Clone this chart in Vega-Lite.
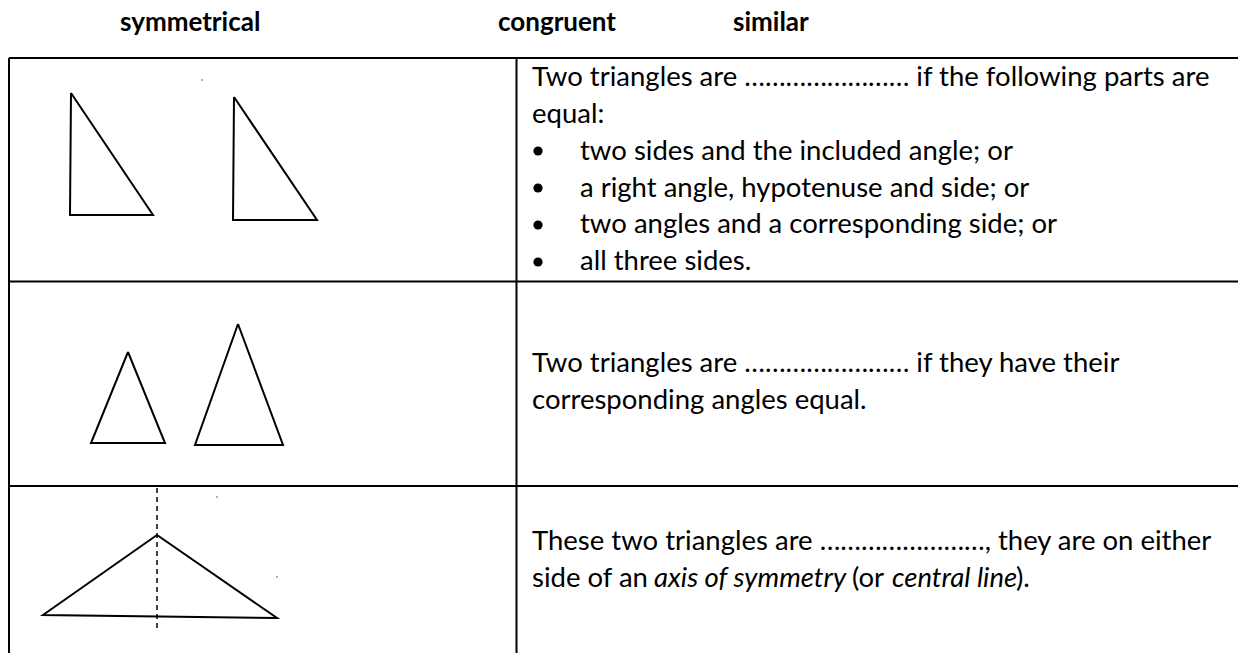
{
  "$schema": "https://vega.github.io/schema/vega-lite/v6.json",
  "width": 1238,
  "height": 653,
  "padding": 0,
  "autosize": {"type": "none"},
  "background": "white",
  "config": {"view": {"stroke": null}},
  "layer": [
    {
      "data": {"values": [
        {"part": "top border", "x": 9, "x2": 1238, "y": 58, "y2": 58},
        {"part": "left border", "x": 9, "x2": 9, "y": 58, "y2": 653},
        {"part": "column divider", "x": 516.5, "x2": 516.5, "y": 58, "y2": 653},
        {"part": "row line 1", "x": 9, "x2": 1238, "y": 281.5, "y2": 281.5},
        {"part": "row line 2", "x": 9, "x2": 1238, "y": 486, "y2": 486}
      ]},
      "mark": {"type": "rule", "color": "black", "strokeWidth": 2},
      "encoding": {
        "x": {"field": "x", "type": "quantitative", "scale": {"domain": [0, 1238], "nice": false, "zero": false}, "axis": null},
        "x2": {"field": "x2"},
        "y": {"field": "y", "type": "quantitative", "scale": {"domain": [0, 653], "nice": false, "zero": false, "reverse": true}, "axis": null},
        "y2": {"field": "y2"}
      }
    },
    {
      "data": {"values": [
        {"shape": "r1a", "i": 0, "x": 71, "y": 93},
        {"shape": "r1a", "i": 1, "x": 153, "y": 215},
        {"shape": "r1a", "i": 2, "x": 70, "y": 215},
        {"shape": "r1a", "i": 3, "x": 71, "y": 93},
        {"shape": "r1b", "i": 0, "x": 234, "y": 97},
        {"shape": "r1b", "i": 1, "x": 317, "y": 220},
        {"shape": "r1b", "i": 2, "x": 233, "y": 220},
        {"shape": "r1b", "i": 3, "x": 234, "y": 97},
        {"shape": "r2a", "i": 0, "x": 128, "y": 352},
        {"shape": "r2a", "i": 1, "x": 165, "y": 443},
        {"shape": "r2a", "i": 2, "x": 91, "y": 443},
        {"shape": "r2a", "i": 3, "x": 128, "y": 352},
        {"shape": "r2b", "i": 0, "x": 238, "y": 324},
        {"shape": "r2b", "i": 1, "x": 283, "y": 445},
        {"shape": "r2b", "i": 2, "x": 195, "y": 445},
        {"shape": "r2b", "i": 3, "x": 238, "y": 324},
        {"shape": "r3", "i": 0, "x": 157, "y": 535},
        {"shape": "r3", "i": 1, "x": 277, "y": 618},
        {"shape": "r3", "i": 2, "x": 43, "y": 615},
        {"shape": "r3", "i": 3, "x": 157, "y": 535}
      ]},
      "mark": {"type": "line", "color": "black", "strokeWidth": 2, "strokeJoin": "miter"},
      "encoding": {
        "x": {"field": "x", "type": "quantitative"},
        "y": {"field": "y", "type": "quantitative"},
        "detail": {"field": "shape"},
        "order": {"field": "i", "type": "quantitative"}
      }
    },
    {
      "data": {"values": [{"x": 157, "y": 488, "y2": 630}]},
      "mark": {"type": "rule", "color": "black", "strokeWidth": 1.5, "strokeDash": [5, 4]},
      "encoding": {
        "x": {"field": "x", "type": "quantitative"},
        "y": {"field": "y", "type": "quantitative"},
        "y2": {"field": "y2"}
      }
    },
    {
      "data": {"values": [
        {"x": 202, "y": 80}, {"x": 217, "y": 497}, {"x": 277, "y": 577}
      ]},
      "mark": {"type": "square", "color": "#555", "size": 3, "filled": true},
      "encoding": {
        "x": {"field": "x", "type": "quantitative"},
        "y": {"field": "y", "type": "quantitative"}
      }
    },
    {
      "data": {"values": [
        {"x": 538, "y": 151},
        {"x": 538, "y": 188},
        {"x": 538, "y": 225},
        {"x": 538, "y": 262}
      ]},
      "mark": {"type": "circle", "color": "black", "size": 85, "opacity": 1},
      "encoding": {
        "x": {"field": "x", "type": "quantitative"},
        "y": {"field": "y", "type": "quantitative"}
      }
    },
    {
      "data": {"values": [
        {"x": 120, "y": 31, "text": "symmetrical"},
        {"x": 498, "y": 31, "text": "congruent"},
        {"x": 733, "y": 31, "text": "similar"}
      ]},
      "mark": {"type": "text", "font": "Lato", "fontWeight": "bold", "fontSize": 26, "align": "left", "baseline": "alphabetic", "color": "black"},
      "encoding": {
        "x": {"field": "x", "type": "quantitative"},
        "y": {"field": "y", "type": "quantitative"},
        "text": {"field": "text"}
      }
    },
    {
      "data": {"values": [
        {"x": 532, "y": 86, "text": "Two triangles are …………………… if the following parts are"},
        {"x": 532, "y": 123, "text": "equal:"},
        {"x": 580, "y": 160, "text": "two sides and the included angle; or"},
        {"x": 580, "y": 197, "text": "a right angle, hypotenuse and side; or"},
        {"x": 580, "y": 233, "text": "two angles and a corresponding side; or"},
        {"x": 580, "y": 270, "text": "all three sides."},
        {"x": 532, "y": 372, "text": "Two triangles are …………………… if they have their"},
        {"x": 532, "y": 409, "text": "corresponding angles equal."},
        {"x": 532, "y": 550, "text": "These two triangles are ……………………, they are on either"},
        {"x": 532, "y": 587, "text": "side of an"},
        {"x": 852, "y": 587, "text": "(or"},
        {"x": 1016, "y": 587, "text": ")."}
      ]},
      "mark": {"type": "text", "font": "Lato", "fontSize": 27.5, "align": "left", "baseline": "alphabetic", "color": "black"},
      "encoding": {
        "x": {"field": "x", "type": "quantitative"},
        "y": {"field": "y", "type": "quantitative"},
        "text": {"field": "text"}
      }
    },
    {
      "data": {"values": [
        {"x": 654, "y": 587, "text": "axis of symmetry"},
        {"x": 892, "y": 587, "text": "central line"}
      ]},
      "mark": {"type": "text", "font": "Lato", "fontStyle": "italic", "fontSize": 27.5, "align": "left", "baseline": "alphabetic", "color": "black"},
      "encoding": {
        "x": {"field": "x", "type": "quantitative"},
        "y": {"field": "y", "type": "quantitative"},
        "text": {"field": "text"}
      }
    }
  ]
}
